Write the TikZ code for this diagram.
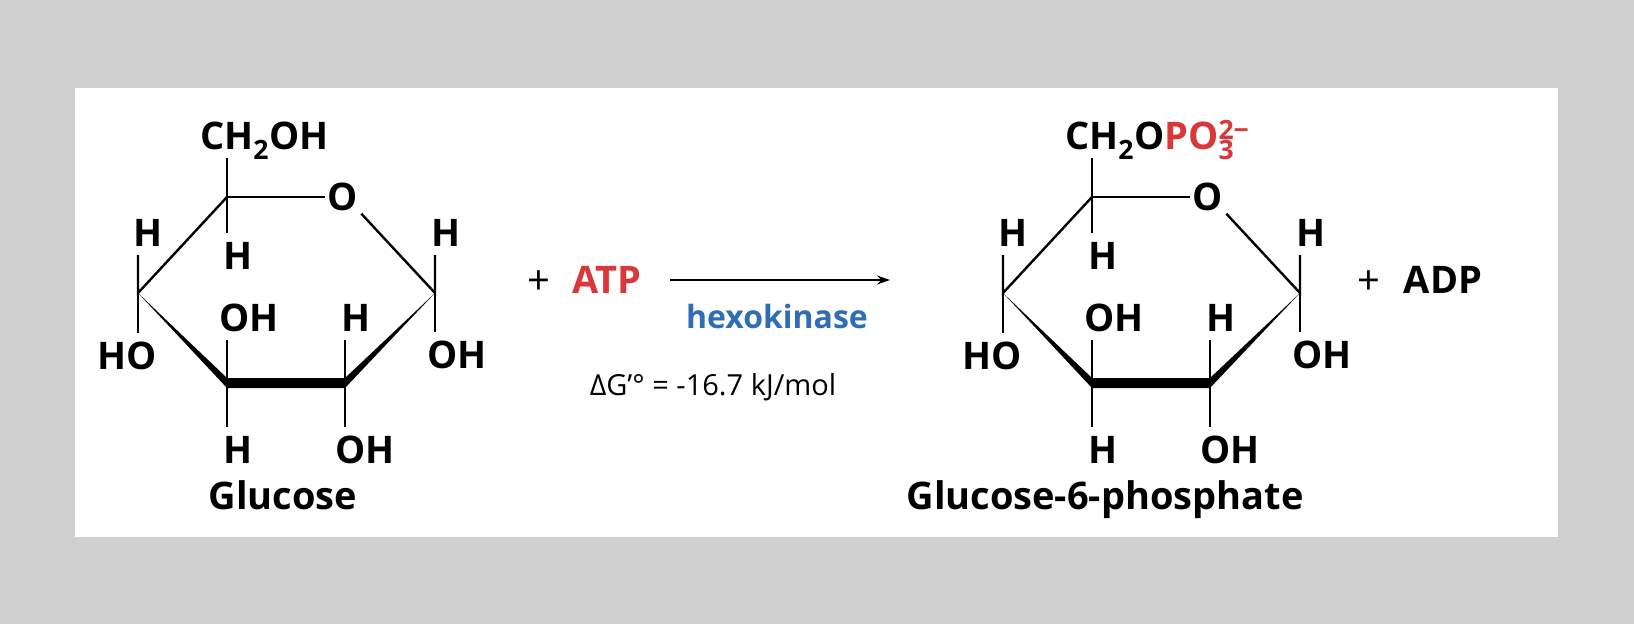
\documentclass[tikz,border=0pt]{standalone}
\usepackage{fontspec}
\usetikzlibrary{arrows.meta}
\setmainfont{Open Sans}
\definecolor{bg}{HTML}{D0CFD0}
\definecolor{atpred}{HTML}{D9383A}
\definecolor{hexblue}{HTML}{2F6DB5}
\newcommand\glring{%
  \coordinate (c5) at (227,197);
  \coordinate (c4) at (138,293);
  \coordinate (c3) at (227,383);
  \coordinate (c2) at (345,383);
  \coordinate (c1) at (435,293);
  \node[lab,anchor=center,inner sep=3pt] (o) at (343,197) {O};
  \node[lab] (h4) at (124,246) {H};
  \node[lab] (ho4) at (88,369) {HO};
  \node[lab] (h5) at (214,269) {H};
  \node[lab] (oh3) at (210,331) {OH};
  \node[lab] (h2) at (332,331) {H};
  \node[lab] (h1) at (422,246) {H};
  \node[lab] (oh1) at (418,368) {OH};
  \node[lab] (h3) at (214,463) {H};
  \node[lab] (oh2) at (326,463) {OH};
  \coordinate (t5) at (227,158);
  \draw[bond] (t5) -- (c5) -- (o.west);
  \draw[bond] (o.south east) -- (c1) -- (c1 |- h1.south);
  \draw[bond] (c1) -- (c1 |- oh1.north);
  \draw[bond] (c5) -- (c4) -- (c4 |- h4.south);
  \draw[bond] (c4) -- (c4 |- ho4.north);
  \draw[bond] (c5) -- (c5 |- h5.north);
  \draw[bond] (c3) -- (c3 |- oh3.south);
  \draw[bond] (c3) -- (c3 |- h3.north);
  \draw[bond] (c2) -- (c2 |- h2.south);
  \draw[bond] (c2) -- (c2 |- oh2.north);
  \fill (c4) -- ([yshift=-5pt]c3) -- ([yshift=-5pt]c2) -- (c1) -- ([yshift=5pt]c2) -- ([yshift=5pt]c3) -- cycle;
}
\begin{document}
\begin{tikzpicture}[x=1pt,y=-1pt,
  lab/.style={font=\fontsize{38}{38}\selectfont\bfseries, anchor=base west, inner sep=9pt, text height=27pt, text depth=0pt},
  bond/.style={line width=2.4pt},
  big/.style={font=\fontsize{38}{38}\selectfont\bfseries, inner sep=0pt},
]
\fill[bg] (0,0) rectangle (1634,624);
\fill[white] (75,88) rectangle (1558,537);
\useasboundingbox (0,0) rectangle (1634,624);
% left ring
\begin{scope}[name prefix=L-]
\glring
\node[big,anchor=base west] (top) at (200,149) {CH\textsubscript{2}OH};
\node[big,anchor=base] (name) at (283,509) {Glucose};
\end{scope}
% right ring
\begin{scope}[xshift=865pt,name prefix=R-]
\glring
\node[big,anchor=base west] (top) at (200,149) {CH\textsubscript{2}O\textcolor{atpred}{PO\rlap{\textsuperscript{2−}}\textsubscript{3}}};
\node[big,anchor=base] (name) at (240,509) {Glucose-6-phosphate};
\end{scope}
% middle
\node[font=\fontsize{40}{40}\selectfont,inner sep=0pt,anchor=base] (plus1) at (539,294) {+};
\node[big,anchor=base,text=atpred] (atp) at (607,293) {ATP};
\coordinate (a1) at (670,280);
\coordinate (a2) at (890,280);
\draw[line width=1.8pt,-{Stealth[length=13pt,width=9pt]}] (a1) -- (a2);
\node[font=\fontsize{32}{32}\selectfont\bfseries,inner sep=0pt,anchor=base,text=hexblue] (hk) at (777,328) {hexokinase};
\node[font=\fontsize{29}{29}\selectfont,inner sep=0pt,anchor=base] (dg) at (713,395) {ΔG’° = -16.7 kJ/mol};
\node[font=\fontsize{40}{40}\selectfont,inner sep=0pt,anchor=base] (plus2) at (1369,294) {+};
\node[big,anchor=base] (adp) at (1443,293) {ADP};
\end{tikzpicture}
\end{document}
